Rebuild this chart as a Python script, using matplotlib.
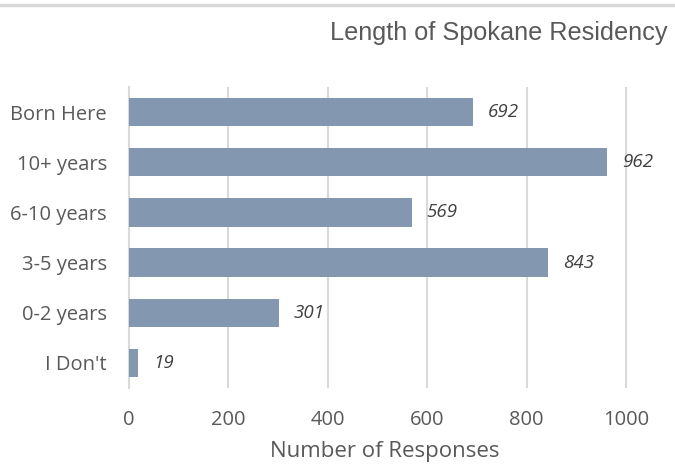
import matplotlib
matplotlib.use("Agg")
import matplotlib.pyplot as plt
from matplotlib.lines import Line2D

categories = ["Born Here", "10+ years", "6-10 years", "3-5 years", "0-2 years", "I Don't"]
values = [692, 962, 569, 843, 301, 19]
xticks = [0, 200, 400, 600, 800, 1000]

plt.rcParams['font.family'] = ['Open Sans', 'DejaVu Sans']

fig = plt.figure(figsize=(6.75, 4.74), dpi=100)
W, H = 675, 474
ax = fig.add_axes([129 / W, 1 - 388 / H, (640 - 129) / W, (388 - 87) / H])

y = list(range(len(categories)))[::-1]
ax.barh(y, values, height=0.567, color="#8497b0", zorder=3)
for yi, v in zip(y, values):
    ax.text(v + 30, yi, str(v), va="center", ha="left", fontsize=13.5,
            style="italic", color="#404040")

ax.set_xlim(0, 1028)
ax.set_ylim(-0.5, len(categories) - 0.5)
ax.set_yticks(y)
ax.set_yticklabels(categories, fontsize=14.5, color="#595959")
ax.set_xticks(xticks)
ax.set_xticklabels([str(t) for t in xticks], fontsize=14.5, color="#595959")
ax.tick_params(axis="y", length=0, pad=16)
ax.tick_params(axis="x", length=0, pad=16)
ax.grid(axis="x", color="#d9d9d9", linewidth=1.5, zorder=0)
for s in ["top", "right", "bottom"]:
    ax.spines[s].set_visible(False)
ax.spines["left"].set_color("#d9d9d9")
ax.spines["left"].set_linewidth(1.5)
ax.set_xlabel("Number of Responses", fontsize=16, color="#595959", labelpad=8)

fig.add_artist(Line2D([0, 1], [1 - 5 / H, 1 - 5 / H], color="#d9d9d9", linewidth=2.5,
                      transform=fig.transFigure))
fig.text(668 / W, 1 - 33 / H, "Length of Spokane Residency", ha="right", va="center",
         fontsize=18.2, color="#595959",
         family=["Liberation Sans Narrow", "Liberation Sans", "DejaVu Sans"])

fig.savefig("out.png", dpi=100)
